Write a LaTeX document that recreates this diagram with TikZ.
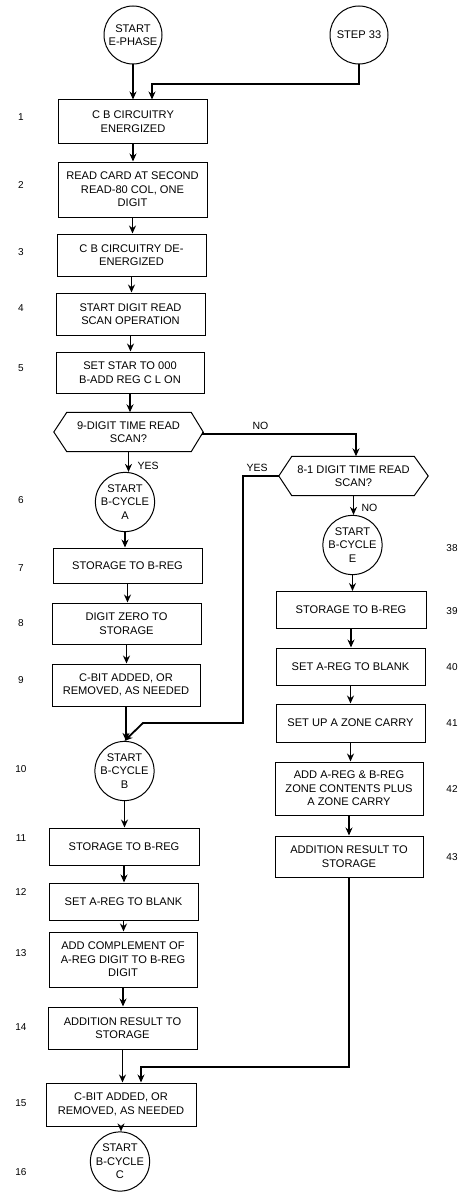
\documentclass[tikz,border=0pt]{standalone}
\usepackage{fontspec}
\setmainfont{Liberation Sans}
\usetikzlibrary{arrows.meta,calc}
\begin{document}
\begin{tikzpicture}[x=1pt,y=-1pt,
  font=\fontsize{11.1}{13.4}\selectfont,
  stepbox/.style={draw,line width=1pt,rectangle,minimum width=#1,inner sep=1pt,align=center},
  stepbox/.default=149pt,
  term/.style={draw,line width=1pt,circle,minimum size=#1,inner sep=0pt,align=center},
  term/.default=56pt,
  decide/.style={rectangle,minimum width=149pt,minimum height=39pt,inner sep=1pt,align=center},
  hexline/.style={draw,line width=1pt,line join=miter},
  flow/.style={line width=1.8pt,-{Stealth[length=8pt,width=7pt]}},
  num/.style={font=\fontsize{10}{11}\selectfont},
  lab/.style={font=\fontsize{10.5}{11}\selectfont,anchor=west}]
\useasboundingbox (0,0) rectangle (461,1196);
% terminals
\node[term=58pt] (sE) at (133,35) {START\\E-PHASE};
\node[term=58pt] (s33) at (359,35) {STEP 33};
% left column
\node[stepbox,minimum height=43pt] (b1) at (133,121.5) {C B CIRCUITRY\\ENERGIZED};
\node[stepbox,minimum height=55pt] (b2) at (132.5,189.5) {READ CARD AT SECOND\\READ-80 COL, ONE\\DIGIT};
\node[stepbox,minimum height=42pt] (b3) at (131.5,255) {C B CIRCUITRY DE-\\ENERGIZED};
\node[stepbox,minimum height=42pt] (b4) at (130.5,314) {START DIGIT READ\\SCAN OPERATION};
\node[stepbox,minimum height=41pt,minimum width=148pt] (b5) at (130,372.5) {SET STAR TO 000\\B-ADD REG C L ON};
\node[decide] (h1) at (128.5,432) {9-DIGIT TIME READ\\SCAN?};
\draw[hexline] (h1.west) -- ($(h1.north west)+(13,0)$) -- ($(h1.north east)+(-12,0)$) -- (h1.east) -- ($(h1.south east)+(-12,0)$) -- ($(h1.south west)+(13,0)$) -- cycle;
\node[term=55pt] (cA) at (125,502) {START\\B-CYCLE\\A};
\node[stepbox,minimum height=35pt] (b7) at (127.5,565.5) {STORAGE TO B-REG};
\node[stepbox,minimum height=41pt] (b8) at (126.5,623.5) {DIGIT ZERO TO\\STORAGE};
\node[stepbox,minimum height=42pt,minimum width=148pt] (b9) at (126,685) {C-BIT ADDED, OR\\REMOVED, AS NEEDED};
\node[term=56pt] (cB) at (124.5,771) {START\\B-CYCLE\\B};
\node[stepbox,minimum height=37pt,minimum width=150pt] (b11) at (124,846.5) {STORAGE TO B-REG};
\node[stepbox,minimum height=37pt] (b12) at (123.5,901.5) {SET A-REG TO BLANK};
\node[stepbox,minimum height=55pt,minimum width=148pt] (b13) at (123,959.5) {ADD COMPLEMENT OF\\A-REG DIGIT TO B-REG\\DIGIT};
\node[stepbox,minimum height=42pt] (b14) at (122.5,1028) {ADDITION RESULT TO\\STORAGE};
\node[stepbox,minimum height=43pt,minimum width=150pt] (b15) at (121,1104.5) {C-BIT ADDED, OR\\REMOVED, AS NEEDED};
\node[term=57pt] (cC) at (120,1161.5) {START\\B-CYCLE\\C};
% right column
\node[decide,minimum height=39pt] (h2) at (353.5,476) {8-1 DIGIT TIME READ\\SCAN?};
\draw[hexline] (h2.west) -- ($(h2.north west)+(13,0)$) -- ($(h2.north east)+(-14,0)$) -- (h2.east) -- ($(h2.south east)+(-14,0)$) -- ($(h2.south west)+(13,0)$) -- cycle;
\node[term=56pt] (cE) at (352.5,545) {START\\B-CYCLE\\E};
\node[stepbox,minimum height=37pt,minimum width=150pt] (b39) at (351,610) {STORAGE TO B-REG};
\node[stepbox,minimum height=37pt] (b40) at (350.5,666.5) {SET A-REG TO BLANK};
\node[stepbox,minimum height=38pt] (b41) at (350.5,723) {SET UP A ZONE CARRY};
\node[stepbox,minimum height=53pt,minimum width=148pt] (b42) at (349,788.5) {ADD A-REG \& B-REG\\ZONE CONTENTS PLUS\\A ZONE CARRY};
\node[stepbox,minimum height=41pt,minimum width=148pt] (b43) at (349,856.5) {ADDITION RESULT TO\\STORAGE};
% connectors
\draw[flow] (sE.south) -- (sE.south |- b1.north);
\coordinate (j33) at (359,84);
\coordinate (k33) at (152,84);
\draw[flow] (s33.south) -- (j33) -- (k33) -- (k33 |- b1.north);
\draw[flow] (b1.south) -- (b1.south |- b2.north);
\draw[flow] (b2.south) -- (b2.south |- b3.north);
\draw[flow] (b3.south) -- (b3.south |- b4.north);
\draw[flow] (b4.south) -- (b4.south |- b5.north);
\draw[flow] (b5.south) -- (b5.south |- h1.north);
\draw[flow] (h1.south) -- (h1.south |- cA.north);
\draw[flow] (cA.south) -- (cA.south |- b7.north);
\draw[flow] (b7.south) -- (b7.south |- b8.north);
\draw[flow] (b8.south) -- (b8.south |- b9.north);
\draw[flow] (b9.south) -- (b9.south |- cB.north);
\coordinate (n1) at (356,434);
\draw[flow] (h1.east) |- (n1) -- (n1 |- h2.north);
\coordinate (y1) at (243,476);
\coordinate (y2) at (243,723);
\coordinate (y3) at (143,723);
\draw[flow] (h2.west) -- (y1) -- (y2) -- (y3) -- (cB.north);
\draw[flow] (h2.south) -- (h2.south |- cE.north);
\draw[flow] (cE.south) -- (cE.south |- b39.north);
\draw[flow] (b39.south) -- (b39.south |- b40.north);
\draw[flow] (b40.south) -- (b40.south |- b41.north);
\draw[flow] (b41.south) -- (b41.south |- b42.north);
\draw[flow] (b42.south) -- (b42.south |- b43.north);
\coordinate (z1) at (349,1067);
\coordinate (z2) at (141,1067);
\draw[flow] (b43.south) -- (z1) -- (z2) -- (z2 |- b15.north);
\draw[flow] (cB.south) -- (cB.south |- b11.north);
\draw[flow] (b11.south) -- (b11.south |- b12.north);
\draw[flow] (b12.south) -- (b12.south |- b13.north);
\draw[flow] (b13.south) -- (b13.south |- b14.north);
\draw[flow] (b14.south) -- (b14.south |- b15.north);
\draw[flow] (b15.south) -- (b15.south |- cC.north);
% branch labels
\node[lab] (lno1) at (249,426) {NO};
\node[lab] (lyes1) at (134,466) {YES};
\node[lab] (lyes2) at (243,468) {YES};
\node[lab] (lno2) at (358,508) {NO};
% step numbers
\foreach \n/\y in {1/117,2/185,3/252,4/308,5/368,6/500,7/568,8/623,9/680,10/769,11/838,12/892,13/953,14/1027,15/1103,16/1172}
  \node[num] (L\n) at (21,\y) {\n};
\foreach \n/\y in {38/548,39/611,40/667,41/723,42/789,43/857}
  \node[num] (R\n) at (452,\y) {\n};
\end{tikzpicture}
\end{document}
